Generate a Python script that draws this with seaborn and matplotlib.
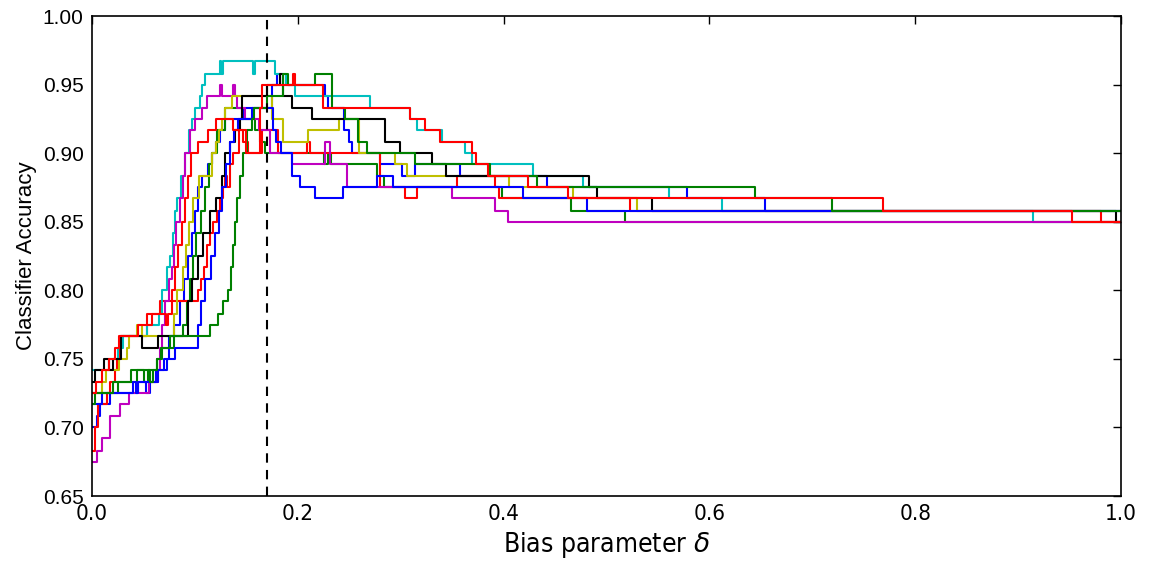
import matplotlib
matplotlib.use("Agg")
import matplotlib.pyplot as plt
import seaborn as sns
import pandas as pd

blue1_x = [0, 0.005, 0.008, 0.017, 0.045, 0.052, 0.056, 0.062, 0.070, 0.075, 0.080, 0.085, 0.089, 0.093,
           0.097, 0.100, 0.103, 0.107, 0.113, 0.117, 0.120, 0.124, 0.129, 0.148, 0.175, 0.180, 0.183, 0.226,
           0.229, 0.245, 0.250, 0.253, 0.280, 0.301, 0.314, 0.358, 0.442, 0.578, 0.654, 1.0]
blue1_y = [0.700, 0.708, 0.717, 0.725, 0.733, 0.725, 0.733, 0.742, 0.750, 0.767, 0.775, 0.792, 0.808, 0.825,
           0.842, 0.858, 0.875, 0.883, 0.892, 0.900, 0.908, 0.917, 0.925, 0.933, 0.950, 0.958, 0.950, 0.942,
           0.933, 0.917, 0.908, 0.900, 0.892, 0.883, 0.892, 0.883, 0.875, 0.867, 0.858, 0.858]

green1_x = [0, 0.025, 0.044, 0.050, 0.054, 0.063, 0.068, 0.080, 0.088, 0.092, 0.095, 0.098, 0.101, 0.106,
            0.110, 0.114, 0.117, 0.121, 0.129, 0.146, 0.158, 0.163, 0.168, 0.225, 0.229, 0.232, 0.277, 0.284,
            0.398, 0.465, 0.518, 1.0]
green1_y = [0.725, 0.733, 0.742, 0.733, 0.742, 0.750, 0.758, 0.767, 0.775, 0.792, 0.808, 0.825, 0.842, 0.858,
            0.875, 0.892, 0.900, 0.917, 0.933, 0.925, 0.917, 0.908, 0.900, 0.892, 0.900, 0.892, 0.883, 0.875,
            0.867, 0.858, 0.850, 0.850]

red1_x = [0, 0.003, 0.006, 0.015, 0.017, 0.022, 0.024, 0.027, 0.053, 0.066, 0.103, 0.106, 0.109, 0.112,
          0.115, 0.118, 0.121, 0.124, 0.127, 0.129, 0.131, 0.134, 0.137, 0.143, 0.147, 0.152, 0.165, 0.181,
          0.209, 0.212, 0.280, 0.304, 0.316, 0.355, 0.392, 0.395, 0.523, 0.981, 1.0]
red1_y = [0.683, 0.700, 0.717, 0.725, 0.733, 0.742, 0.750, 0.767, 0.783, 0.792, 0.800, 0.808, 0.817, 0.833,
          0.842, 0.850, 0.858, 0.867, 0.875, 0.883, 0.875, 0.892, 0.900, 0.917, 0.908, 0.900, 0.917, 0.900,
          0.908, 0.900, 0.875, 0.867, 0.875, 0.883, 0.875, 0.867, 0.858, 0.850, 0.850]

cyan_x = [0, 0.016, 0.025, 0.030, 0.053, 0.065, 0.068, 0.073, 0.076, 0.079, 0.081, 0.083, 0.086, 0.090,
          0.094, 0.097, 0.100, 0.105, 0.107, 0.110, 0.124, 0.125, 0.127, 0.156, 0.158, 0.178, 0.188, 0.197,
          0.270, 0.309, 0.316, 0.340, 0.362, 0.369, 0.429, 0.477, 0.561, 0.612, 0.914, 1.0]
cyan_y = [0.742, 0.750, 0.758, 0.767, 0.775, 0.783, 0.800, 0.817, 0.825, 0.842, 0.858, 0.867, 0.883, 0.900,
          0.917, 0.925, 0.933, 0.942, 0.950, 0.958, 0.967, 0.958, 0.967, 0.958, 0.967, 0.958, 0.950, 0.942,
          0.933, 0.925, 0.917, 0.908, 0.900, 0.892, 0.883, 0.875, 0.867, 0.858, 0.850, 0.850]

magenta_x = [0, 0.005, 0.010, 0.017, 0.027, 0.036, 0.055, 0.064, 0.066, 0.068, 0.071, 0.075, 0.078, 0.080,
             0.082, 0.085, 0.088, 0.090, 0.095, 0.100, 0.107, 0.112, 0.124, 0.126, 0.137, 0.139, 0.141, 0.149,
             0.162, 0.173, 0.194, 0.226, 0.231, 0.248, 0.350, 0.392, 0.404, 1.0]
magenta_y = [0.675, 0.683, 0.692, 0.708, 0.717, 0.725, 0.733, 0.742, 0.758, 0.775, 0.792, 0.808, 0.817, 0.833,
             0.850, 0.867, 0.883, 0.900, 0.917, 0.925, 0.933, 0.942, 0.950, 0.942, 0.950, 0.942, 0.933, 0.925,
             0.917, 0.900, 0.892, 0.908, 0.892, 0.875, 0.867, 0.858, 0.850, 0.850]

yellow_x = [0, 0.010, 0.014, 0.026, 0.034, 0.036, 0.044, 0.049, 0.080, 0.083, 0.088, 0.091, 0.094, 0.098,
            0.104, 0.117, 0.120, 0.123, 0.126, 0.129, 0.136, 0.175, 0.186, 0.210, 0.240, 0.259, 0.294, 0.306,
            0.405, 0.467, 0.530, 1.0]
yellow_y = [0.725, 0.733, 0.742, 0.750, 0.758, 0.767, 0.775, 0.767, 0.783, 0.800, 0.817, 0.833, 0.850, 0.867,
            0.883, 0.900, 0.908, 0.917, 0.925, 0.933, 0.942, 0.925, 0.908, 0.917, 0.925, 0.900, 0.892, 0.883,
            0.875, 0.867, 0.858, 0.858]

black_x = [0, 0.003, 0.012, 0.016, 0.020, 0.028, 0.049, 0.064, 0.093, 0.097, 0.103, 0.108, 0.115, 0.120,
           0.126, 0.129, 0.134, 0.139, 0.144, 0.146, 0.170, 0.183, 0.186, 0.194, 0.214, 0.285, 0.299, 0.330,
           0.344, 0.483, 0.491, 0.544, 0.995, 1.0]
black_y = [0.733, 0.742, 0.750, 0.742, 0.750, 0.767, 0.758, 0.767, 0.792, 0.808, 0.825, 0.842, 0.858, 0.867,
           0.883, 0.900, 0.908, 0.917, 0.925, 0.942, 0.950, 0.958, 0.942, 0.933, 0.925, 0.908, 0.900, 0.892,
           0.883, 0.875, 0.867, 0.858, 0.850, 0.850]

blue2_x = [0, 0.010, 0.040, 0.043, 0.045, 0.064, 0.073, 0.081, 0.103, 0.106, 0.110, 0.116, 0.119, 0.123,
           0.126, 0.130, 0.134, 0.138, 0.142, 0.155, 0.176, 0.179, 0.184, 0.194, 0.202, 0.217, 0.244, 0.277,
           0.292, 0.419, 0.481, 1.0]
blue2_y = [0.717, 0.725, 0.733, 0.725, 0.733, 0.742, 0.750, 0.758, 0.775, 0.792, 0.808, 0.825, 0.842, 0.858,
           0.875, 0.892, 0.908, 0.917, 0.925, 0.933, 0.917, 0.908, 0.900, 0.883, 0.875, 0.867, 0.875, 0.883,
           0.875, 0.867, 0.858, 0.858]

green2_x = [0, 0.003, 0.020, 0.038, 0.056, 0.059, 0.063, 0.067, 0.076, 0.115, 0.122, 0.127, 0.132, 0.135,
            0.137, 0.139, 0.141, 0.144, 0.147, 0.151, 0.155, 0.157, 0.170, 0.186, 0.190, 0.217, 0.233, 0.246,
            0.258, 0.267, 0.314, 0.387, 0.432, 0.644, 0.719, 1.0]
green2_y = [0.717, 0.725, 0.733, 0.742, 0.733, 0.742, 0.750, 0.758, 0.767, 0.775, 0.783, 0.792, 0.800, 0.817,
            0.833, 0.850, 0.867, 0.883, 0.900, 0.917, 0.925, 0.933, 0.942, 0.958, 0.950, 0.958, 0.933, 0.925,
            0.908, 0.900, 0.892, 0.883, 0.875, 0.867, 0.858, 0.858]

red2_x = [0, 0.004, 0.010, 0.016, 0.022, 0.026, 0.045, 0.058, 0.072, 0.074, 0.078, 0.081, 0.084, 0.087,
          0.090, 0.093, 0.096, 0.103, 0.113, 0.120, 0.137, 0.150, 0.163, 0.165, 0.195, 0.197, 0.224, 0.309,
          0.324, 0.338, 0.369, 0.373, 0.385, 0.424, 0.463, 0.769, 0.952, 1.0]
red2_y = [0.725, 0.733, 0.742, 0.750, 0.758, 0.767, 0.775, 0.783, 0.775, 0.783, 0.800, 0.817, 0.833, 0.850,
          0.867, 0.883, 0.900, 0.908, 0.917, 0.925, 0.917, 0.900, 0.933, 0.950, 0.958, 0.950, 0.933, 0.925,
          0.917, 0.908, 0.900, 0.892, 0.883, 0.875, 0.867, 0.858, 0.850, 0.850]

DELTA_STAR = 0.17

# classic matplotlib cycle b, g, r, c, m, y, k, then round again
RUNS = [
    ("run 1", blue1_x, blue1_y, "#0000ff"),
    ("run 2", green1_x, green1_y, "#008000"),
    ("run 3", red1_x, red1_y, "#ff0000"),
    ("run 4", cyan_x, cyan_y, "#00bfbf"),
    ("run 5", magenta_x, magenta_y, "#bf00bf"),
    ("run 6", yellow_x, yellow_y, "#bfbf00"),
    ("run 7", black_x, black_y, "#000000"),
    ("run 8", blue2_x, blue2_y, "#0000ff"),
    ("run 9", green2_x, green2_y, "#008000"),
    ("run 10", red2_x, red2_y, "#ff0000"),
]

NARROW = ["Liberation Sans Narrow", "DejaVu Sans"]


def build_frame():
    frames = []
    for name, xs, ys, _ in RUNS:
        frames.append(pd.DataFrame({"delta": xs, "accuracy": ys, "run": name}))
    return pd.concat(frames, ignore_index=True)


def main():
    sns.set_style("white")
    plt.rcParams["font.family"] = ["DejaVu Sans"]
    for key in ("text.color", "axes.labelcolor", "xtick.color", "ytick.color", "axes.edgecolor"):
        plt.rcParams[key] = "black"

    df = build_frame()
    palette = {name: col for name, _, _, col in RUNS}
    order = [name for name, _, _, _ in RUNS]

    fig, ax = plt.subplots(figsize=(11.55, 5.62), dpi=100)
    fig.subplots_adjust(left=0.0797, right=0.9706, bottom=0.1174, top=0.9715)

    sns.lineplot(
        data=df, x="delta", y="accuracy", hue="run", hue_order=order,
        palette=palette, estimator=None, drawstyle="steps-post",
        linewidth=1.5, legend=False, ax=ax,
    )
    ax.axvline(DELTA_STAR, color="black", linewidth=1.5, linestyle=(0, (4.5, 3.5)))

    ax.set_xlim(0, 1)
    ax.set_ylim(0.65, 1.0)
    ax.set_xticks([0, 0.2, 0.4, 0.6, 0.8, 1.0])
    ax.set_yticks([0.65, 0.70, 0.75, 0.80, 0.85, 0.90, 0.95, 1.00])
    ax.set_xticklabels(["0.0", "0.2", "0.4", "0.6", "0.8", "1.0"],
                       family=NARROW, stretch="condensed", fontsize=16)
    ax.set_yticklabels([f"{v:.2f}" for v in ax.get_yticks()],
                       family="Liberation Sans", fontsize=15)
    ax.tick_params(direction="in", top=True, right=True, length=6, width=1, pad=6)

    ax.set_xlabel(r"Bias parameter $\delta$", family=NARROW, stretch="condensed", fontsize=19)
    ax.set_ylabel("Classifier Accuracy", family="Liberation Sans", fontsize=16)

    for side in ax.spines.values():
        side.set_color("black")
        side.set_linewidth(1.2)

    fig.savefig("out.png", dpi=100)
    plt.close(fig)


if __name__ == "__main__":
    main()
